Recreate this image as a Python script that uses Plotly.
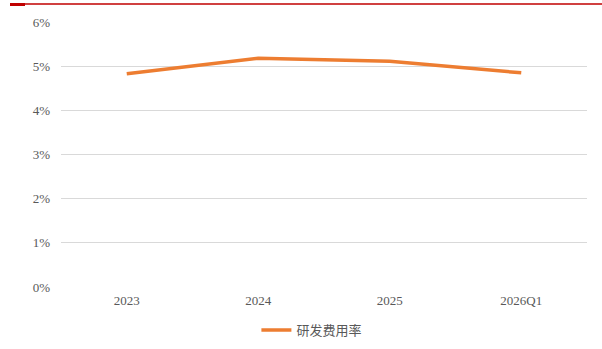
import plotly.graph_objects as go

# R&D expense ratio by period
periods = ["2023", "2024", "2025", "2026Q1"]
rd_ratio = [0.0483, 0.0518, 0.0511, 0.0485]
series_name = "研发费用率"
y_ticks = [0, 0.01, 0.02, 0.03, 0.04, 0.05, 0.06]
y_tick_labels = ["0%", "1%", "2%", "3%", "4%", "5%", "6%"]

W, H = 602, 349
ML, MR, MT, MB = 61, 15, 22, 62
pw = W - ML - MR
ph = H - MT - MB

def px_x(x):
    return (x - ML) / pw

def px_y(y):
    return (H - MB - y) / ph

fig = go.Figure()
fig.add_trace(go.Scatter(
    x=periods, y=rd_ratio, mode="lines", name=series_name,
    line=dict(color="#ED7D31", width=3.5),
))

font_txt = "Liberation Serif, Noto Sans CJK SC, serif"
fig.update_layout(
    width=W, height=H,
    margin=dict(l=ML, r=MR, t=MT, b=MB, autoexpand=False),
    paper_bgcolor="white", plot_bgcolor="white",
    font=dict(family=font_txt, size=13, color="#595959"),
    showlegend=True,
    legend=dict(orientation="h", x=0.477, xanchor="center", y=px_y(330), yanchor="middle",
                font=dict(family="Noto Sans CJK SC, serif", size=13, color="#595959")),
    xaxis=dict(type="category", range=[-0.5, len(periods) - 0.5],
               showgrid=False, showline=False, zeroline=False,
               ticks="", tickfont=dict(size=13, color="#595959"), ticklabelstandoff=4),
    yaxis=dict(range=[0, 0.06], tickvals=y_ticks, ticktext=y_tick_labels,
               showgrid=True, gridcolor="#D9D9D9", gridwidth=1, zeroline=False,
               showline=False, ticks="", ticklabelstandoff=10,
               tickfont=dict(size=13, color="#595959")),
    shapes=[
        dict(type="line", xref="paper", yref="paper", x0=px_x(10), x1=px_x(602),
             y0=px_y(4), y1=px_y(4), line=dict(color="#C00000", width=1.5)),
        dict(type="line", xref="paper", yref="paper", x0=px_x(10), x1=px_x(25),
             y0=px_y(4.5), y1=px_y(4.5), line=dict(color="#C00000", width=3)),
    ],
)

fig.write_html("out.html")
